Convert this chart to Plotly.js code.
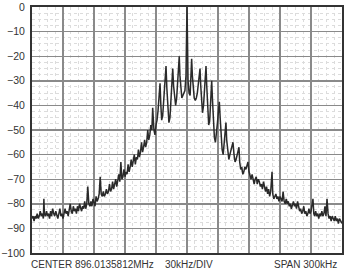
<!DOCTYPE html>
<html>
<head>
<meta charset="utf-8">
<script src="https://cdn.plot.ly/plotly-3.0.1.min.js"></script>
<style>
html,body{margin:0;padding:0;background:#fff;}
#chart{width:350px;height:274px;}
</style>
</head>
<body>
<div id="chart"></div>
<script>
// Offset from center frequency (kHz) and level (dB)
const freqKHz = [
-150,-149,-148,-147,-146,-145,-144,-143,-142,-141,-140,-139,-138.5,-138,-137,-136,-135,-134,-133,-132,
-131,-130,-129,-128,-127,-126,-125,-124,-123,-122,-121,-120,-119,-118,-117,-116,-115,-114,-113,-112,
-111,-110,-109,-108,-107,-106,-105,-104,-103,-102,-101,-100,-99,-98,-97,-96,-95,-94,-93,-92,
-91,-90,-89,-88,-87,-86,-85,-84,-83,-82,-81,-80,-79,-78,-77,-76,-75,-74,-73,-72,
-71,-70,-69,-68,-67,-66,-65,-64,-63,-62,-61,-60,-59,-58,-57,-56,-55,-54,-53,-52,
-51,-50,-49,-48,-47,-46,-45,-44,-43,-42,-41,-40,-39,-38,-37,-36,-35,-34,-33.2,-32,
-31,-30,-29,-28,-27,-26.1,-25.3,-24.5,-23.5,-22.5,-21.5,-20.3,-19.5,-18.5,-17.5,-16.5,-15.5,-14.5,-13.8,-13,
-12,-11,-10,-9,-8.2,-7.5,-6.8,-6,-5,-4,-3,-2,-1,-0.5,0,0.5,1,2,3,3.8,
4.5,5.2,6,7,8,9,10,11,12,12.6,13.3,14,15,16,17,17.8,18.4,19.1,20,21,
22,23,23.9,24.7,25.5,26.5,27.5,28.5,29.5,30.5,31.3,32.1,33,34,35,36,37,37.7,38.4,39.5,
40.5,41.5,42.5,43.5,44.5,45.5,46.5,47.5,48.5,49.5,50.3,51,52,53,54,55,56,57,58,59,
60,61,62,63,64,65,66,67,68,69,70,71,72,73,74,75,76,77,78,79,
80,81,82.3,83,84,85,86,87,88,89,90,91,92,93,94,95,96,97,98,99,
100,101,102,103,104,105,106,107,108,109,110,111,112,113,114,115,116,117,118,119,
120,121,121.9,122.7,123.5,124.5,125.5,126.5,127.5,128.5,129.5,130.5,131.5,132.5,133.5,134.5,135.5,136.5,137.5,138.5,
139.5,140.5,141.5,142.5,143.5,144.5,145.5,146.5,147.5,148.5,150
];
const levelDB = [
-86,-85,-87,-85,-86,-84,-86,-85,-83,-85,-84,-86,-78,-84,-85,-83,-85,-84,-86,-83,
-85,-82,-84,-85,-83,-85,-86,-84,-82,-85,-84,-86,-84,-82,-84,-83,-85,-82,-80,-83,
-84,-81,-83,-82,-84,-81,-83,-80,-82,-83,-81,-82,-79,-82,-80,-73,-80,-81,-79,-81,
-78,-80,-81,-77,-79,-78,-76,-69,-76,-77,-75,-77,-76,-74,-76,-75,-72,-75,-74,-71,
-74,-72,-70,-73,-71,-68,-71,-63,-70,-69,-66,-69,-67,-68,-64,-67,-65,-62,-65,-63,
-60,-64,-61,-62,-58,-61,-59,-55,-59,-57,-54,-57,-55,-50,-54,-52,-48,-50,-41,-50,
-52,-48,-46,-42,-36,-31,-40,-46,-44,-38,-30,-24,-33,-42,-47,-45,-38,-30,-25,-32,
-38,-40,-37,-30,-23,-20,-28,-34,-37,-36,-35,-34,-28,-12,0,-14,-30,-35,-36,-28,
-21,-28,-34,-37,-38,-37,-35,-31,-27,-25,-32,-39,-43,-40,-33,-27,-24,-32,-41,-48,
-46,-38,-30,-38,-47,-53,-55,-52,-47,-42,-38.5,-45,-52,-58,-60,-56,-50,-47,-54,-60,
-62,-60,-58,-56,-55,-60,-63,-62,-60,-58,-57,-63,-66,-65,-68,-67,-65,-66,-64,-63,
-67,-69,-70,-68,-71,-72,-70,-69,-72,-70,-71,-73,-72,-74,-71,-73,-75,-73,-76,-74,
-77,-75,-67,-76,-78,-77,-76,-78,-77,-79,-77,-78,-79,-75,-79,-80,-78,-80,-79,-81,
-80,-82,-80,-79,-81,-80,-82,-79,-81,-83,-82,-84,-83,-81,-84,-83,-85,-84,-82,-84,
-83,-81,-78,-84,-85,-83,-85,-84,-86,-84,-85,-83,-85,-84,-81,-85,-78,-84,-86,-85,
-87,-85,-86,-87,-85,-87,-86,-88,-86,-87,-88
];
const yTickVals = [0,-10,-20,-30,-40,-50,-60,-70,-80,-90,-100];
const yTickText = ["0","\u221210","\u221220","\u221230","\u221240","\u221250","\u221260","\u221270","\u221280","\u221290","\u2212100"];
const footerLeft = "CENTER 896.0135812MHz";
const footerMid = "30kHz/DIV";
const footerRight = "SPAN 300kHz";

const font = {family: "Liberation Sans, Arial, sans-serif", size: 10, color: "#333"};

const trace = {
  x: freqKHz, y: levelDB, type: "scatter", mode: "lines",
  line: {color: "#2a2a2a", width: 1.5},
  hoverinfo: "skip"
};

const layout = {
  width: 350, height: 274,
  margin: {l: 32, r: 8, t: 7, b: 21, pad: 0},
  paper_bgcolor: "#fff", plot_bgcolor: "#fff",
  showlegend: false,
  font: font,
  xaxis: {
    range: [-150, 150], dtick: 30, tick0: -150, showticklabels: false, ticks: "",
    showgrid: true, gridcolor: "#8a8a8a", gridwidth: 1.4,
    zeroline: false, showline: true, mirror: true, linecolor: "#333", linewidth: 2,
    minor: {dtick: 7.5, showgrid: true, gridcolor: "#dcdcdc", griddash: "dot", gridwidth: 1}
  },
  yaxis: {
    range: [-100, 0], tickvals: yTickVals, ticktext: yTickText, ticks: "",
    showgrid: true, gridcolor: "#8a8a8a", gridwidth: 1.4,
    zeroline: false, showline: true, mirror: true, linecolor: "#333", linewidth: 2,
    tickfont: {family: font.family, size: 10.5, color: "#333"}, ticklabelstandoff: 3,
    minor: {dtick: 2.5, showgrid: true, gridcolor: "#dcdcdc", griddash: "dot", gridwidth: 1}
  },
  annotations: [
    {text: footerLeft, xref: "paper", yref: "paper", x: -0.01, y: -0.048, xanchor: "left", yanchor: "middle", showarrow: false, font: font},
    {text: footerMid, xref: "paper", yref: "paper", x: 0.423, y: -0.048, xanchor: "left", yanchor: "middle", showarrow: false, font: font},
    {text: footerRight, xref: "paper", yref: "paper", x: 0.99, y: -0.048, xanchor: "right", yanchor: "middle", showarrow: false, font: font}
  ]
};

Plotly.newPlot("chart", [trace], layout, {staticPlot: true, displayModeBar: false});
</script>
</body>
</html>
